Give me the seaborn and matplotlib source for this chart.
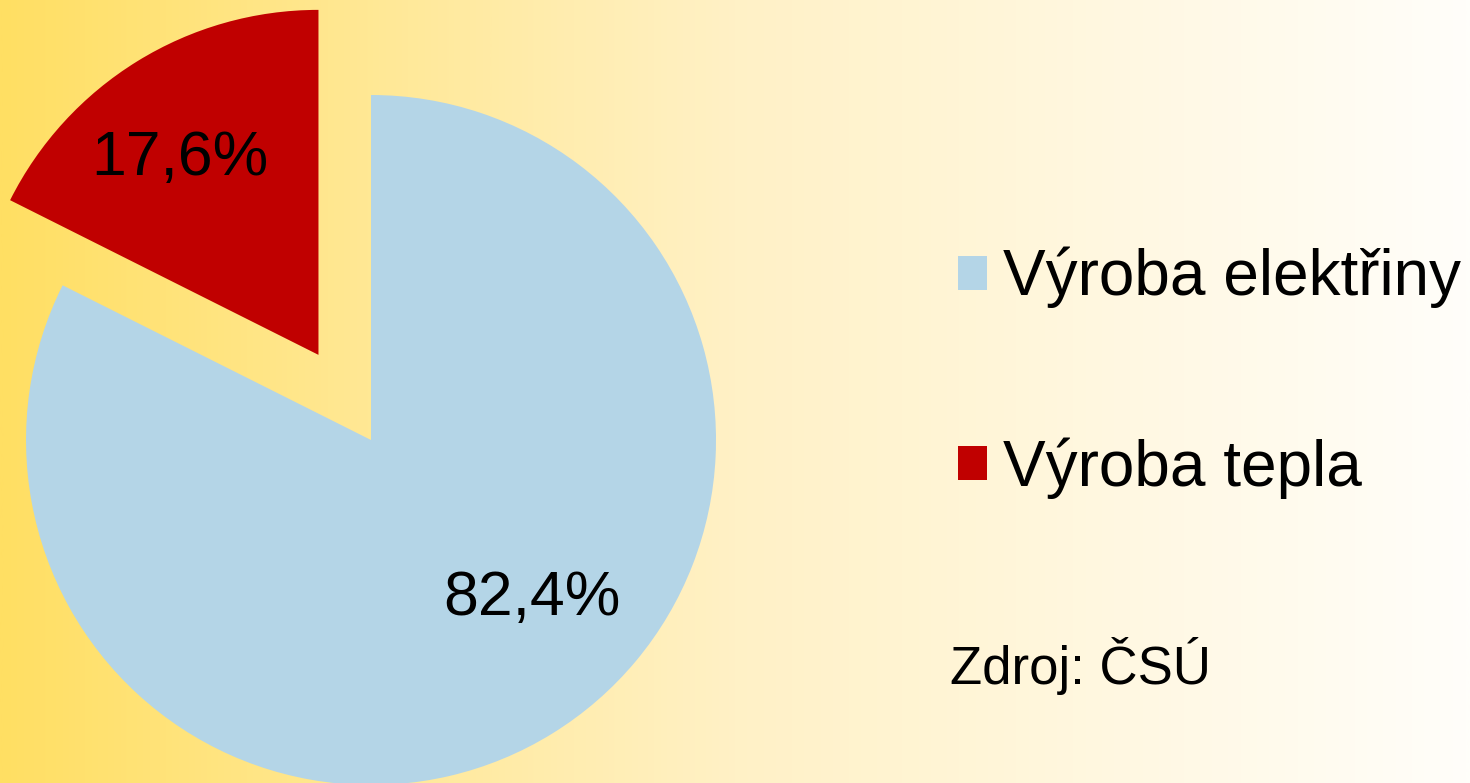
import numpy as np
import matplotlib.pyplot as plt
import seaborn as sns
from matplotlib.colors import LinearSegmentedColormap
from matplotlib.patches import Patch

# data
labels = ["Výroba elektřiny", "Výroba tepla"]
shares = [82.4, 17.6]
source = "Zdroj: ČSÚ"

sns.set_theme(style="white")
plt.rcParams['font.family'] = ['Liberation Sans', 'DejaVu Sans']
plt.rcParams['text.color'] = 'black'

colors = sns.color_palette(["#B4D5E7", "#C00000"])

fig = plt.figure(figsize=(14.7, 7.83), dpi=100)

# background gradient
bg = fig.add_axes([0, 0, 1, 1])
bg.axis('off')
cmap = LinearSegmentedColormap.from_list("bg", ["#FFDF63", "#FFF1C6", "#FFFEFA"])
bg.imshow(np.linspace(0, 1, 512)[None, :], aspect='auto', cmap=cmap, extent=[0, 1, 0, 1])

# pie
ax = fig.add_axes([0, 0, 1, 1])
ax.patch.set_alpha(0)
wedges, texts, autotexts = ax.pie(
    shares, colors=colors, startangle=90, counterclock=False,
    explode=[0, 0.29],
    autopct=lambda p: f"{p:.1f}%".replace(".", ","),
    wedgeprops={'linewidth': 0, 'edgecolor': 'none'},
    textprops={'fontsize': 45, 'color': 'black'},
)
ax.set_xlim(-1.0754, 3.1855)
ax.set_ylim(-0.9942, 1.2754)
ax.set_aspect('auto')
ax.axis('off')

# label placement
autotexts[0].set_position((0.467, -0.458))
autotexts[1].set_position((-0.554, 0.815))

# legend
handles = [Patch(facecolor=c, edgecolor='none') for c in colors]
fig.legend(handles, labels, loc='upper left',
           bbox_to_anchor=(958 / 1470, 1 - 247 / 783),
           frameon=False, fontsize=46, handlelength=0.45, handleheight=0.45,
           handletextpad=0.25, labelspacing=2.02, borderpad=0, borderaxespad=0,
           labelcolor='black')

fig.text(950 / 1470, 1 - 684 / 783, source, fontsize=38, va='baseline', ha='left',
         color='black')

fig.savefig("out.png", dpi=100)
